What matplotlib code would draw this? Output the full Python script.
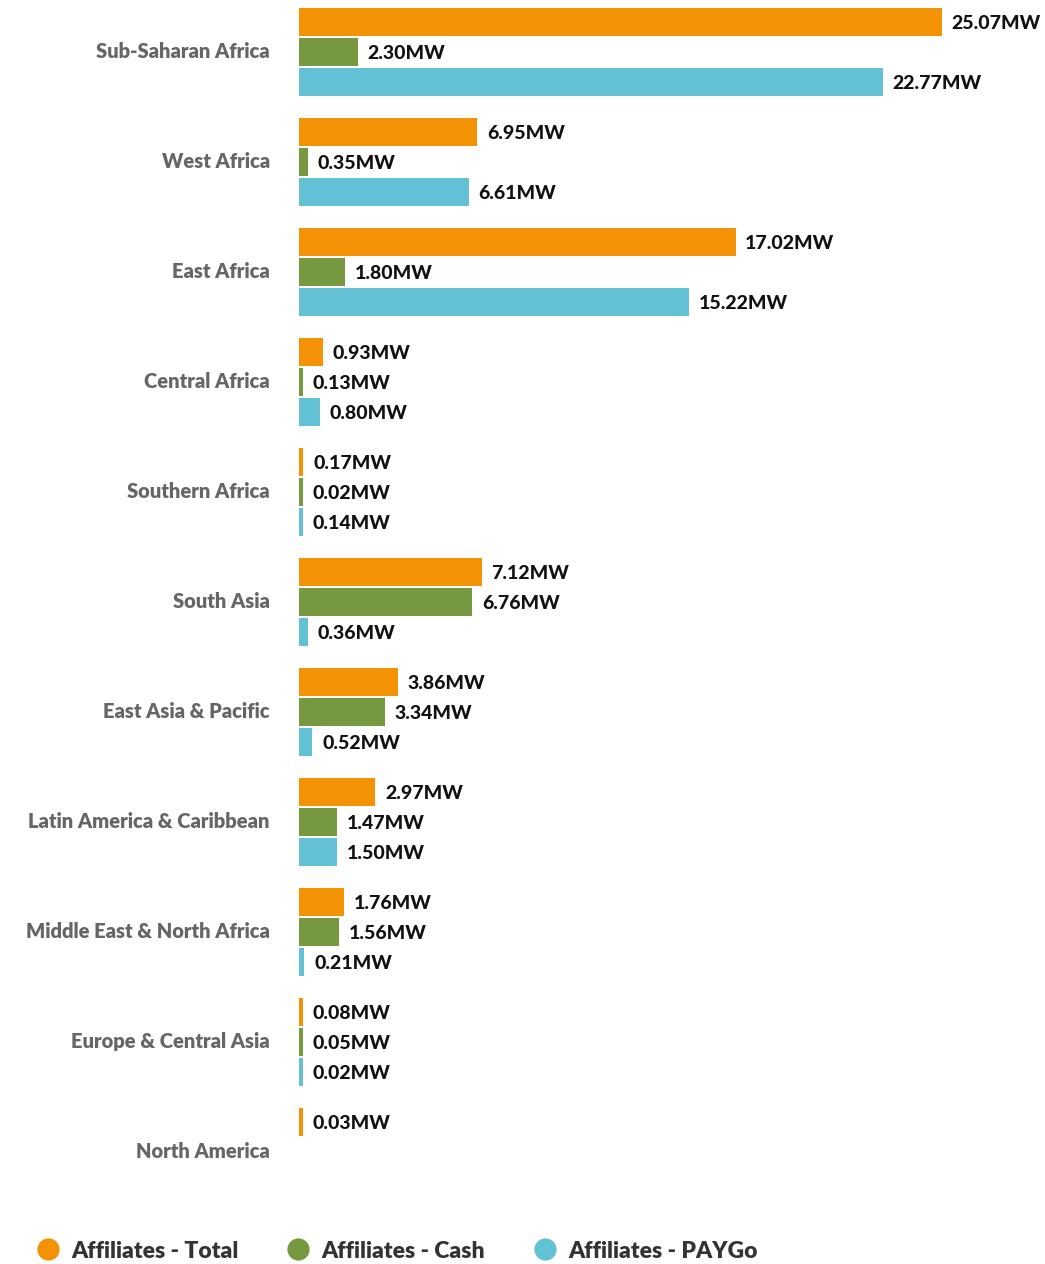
import numpy as np
import matplotlib.pyplot as plt
from matplotlib.lines import Line2D

plt.rcParams['font.family'] = ['Lato', 'DejaVu Sans']

# regional installed capacity, MW
regions = [
    "Sub-Saharan Africa", "West Africa", "East Africa", "Central Africa",
    "Southern Africa", "South Asia", "East Asia & Pacific",
    "Latin America & Caribbean", "Middle East & North Africa",
    "Europe & Central Asia", "North America",
]
total = [25.07, 6.95, 17.02, 0.93, 0.17, 7.12, 3.86, 2.97, 1.76, 0.08, 0.03]
cash = [2.30, 0.35, 1.80, 0.13, 0.02, 6.76, 3.34, 1.47, 1.56, 0.05, 0.0]
paygo = [22.77, 6.61, 15.22, 0.80, 0.14, 0.36, 0.52, 1.50, 0.21, 0.02, 0.0]

series = [
    ("Affiliates - Total", total, "#F39204"),
    ("Affiliates - Cash", cash, "#76983E"),
    ("Affiliates - PAYGo", paygo, "#62C1D5"),
]

W, H = 1045, 1264
fig = plt.figure(figsize=(W / 100, H / 100), dpi=100)

# axes: left edge at the bar baseline, one category per 110px
ax_left, ax_top, ax_bot = 299, 0, 1205
ax = fig.add_axes([ax_left / W, 1 - ax_bot / H, 1 - ax_left / W, (ax_bot - ax_top) / H])
px_per_mw = 643 / 25.07
ax.set_xlim(0, (W - ax_left) / px_per_mw)
ax.set_ylim((ax_bot - 52) / 110, -52 / 110)

y = np.arange(len(regions))
step = 30 / 110
height = 28 / 110
min_len = 4 / px_per_mw  # keep tiny values visible

for k, (name, vals, color) in enumerate(series):
    vals = np.array(vals)
    pos = y + (k - 1) * step
    shown = vals > 0
    widths = np.where(vals > 0, np.maximum(vals, min_len), 0)
    ax.barh(pos[shown], widths[shown], height=height, color=color, linewidth=0)
    for yy, w, v in zip(pos[shown], widths[shown], vals[shown]):
        ax.annotate(f"{v:.2f}MW", (w, yy), xytext=(7, -1), textcoords="offset points",
                    va="center", ha="left", fontsize=14, fontweight=900,
                    color="#111111")

# region names sit a touch above the group centre
ax.set_yticks(y - 2 / 110)
ax.set_yticklabels(regions, fontsize=14.5, fontweight=800, color="#666666")
ax.tick_params(axis="y", length=0, pad=21)
ax.set_xticks([])
for s in ax.spines.values():
    s.set_visible(False)

handles = [Line2D([], [], marker="o", linestyle="", markersize=16,
                  markerfacecolor=c, markeredgewidth=0) for _, _, c in series]
fig.legend(handles, [n for n, _, _ in series], loc="center left",
           bbox_to_anchor=(25 / W, 1 - 1251 / H), ncol=3, frameon=False,
           prop={"size": 16.5, "weight": 800}, labelcolor="#333333",
           handletextpad=0.42, columnspacing=2.0, handlelength=1.2, borderaxespad=0)

fig.savefig("out.png", dpi=100)
